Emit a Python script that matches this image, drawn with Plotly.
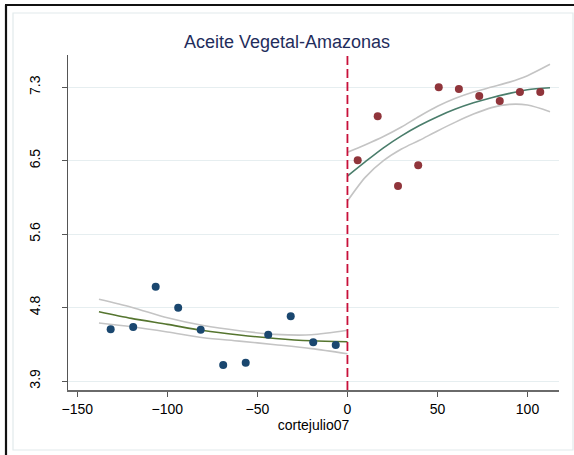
import plotly.graph_objects as go

# ---- data ----
left_x = [-131.5, -119, -106.5, -94, -81.5, -69, -56.5, -44, -31.5, -19, -6.5]
left_y = [4.498, 4.525, 4.991, 4.748, 4.494, 4.085, 4.112, 4.436, 4.649, 4.348, 4.317]

right_x = [5.7, 16.8, 28.1, 39.3, 50.7, 61.9, 73.2, 84.6, 95.8, 107.1]
right_y = [6.455, 6.964, 6.158, 6.397, 7.300, 7.280, 7.199, 7.141, 7.246, 7.246]

# fitted curves and confidence bands
lfit_x = [-138, -120, -100, -80, -60, -40, -20, 0]
lfit_c = [4.702, 4.625, 4.556, 4.484, 4.433, 4.393, 4.366, 4.355]
lfit_u = [4.846, 4.755, 4.632, 4.542, 4.482, 4.440, 4.435, 4.487]
lfit_l = [4.571, 4.528, 4.468, 4.400, 4.362, 4.320, 4.275, 4.216]

rfit_x = [0, 10, 20, 30, 40, 50, 60, 70, 80, 90, 100, 112.5]
rfit_c = [6.273, 6.440, 6.600, 6.738, 6.858, 6.960, 7.048, 7.120, 7.180, 7.230, 7.272, 7.295]
rfit_u = [6.548, 6.635, 6.730, 6.840, 6.965, 7.080, 7.173, 7.245, 7.303, 7.360, 7.435, 7.566]
rfit_l = [5.984, 6.260, 6.450, 6.585, 6.687, 6.795, 6.897, 6.990, 7.065, 7.103, 7.095, 7.018]

cutoff = 0
x_ticks = [-150, -100, -50, 0, 50, 100]
y_ticks = [3.9, 4.75, 5.6, 6.45, 7.3]
y_tick_text = ["3.9", "4.8", "5.6", "6.5", "7.3"]

title = "Aceite Vegetal-Amazonas"
x_title = "cortejulio07"

FONT = "Liberation Sans, Arial, sans-serif"
CI_COL = "#c4c4c4"
SMOOTH = 0.8

fig = go.Figure()

for xs, ys in [(lfit_x, lfit_u), (lfit_x, lfit_l), (rfit_x, rfit_u), (rfit_x, rfit_l)]:
    fig.add_trace(go.Scatter(x=xs, y=ys, mode="lines",
                             line=dict(color=CI_COL, width=1.6, shape="spline", smoothing=SMOOTH),
                             hoverinfo="skip", showlegend=False))

fig.add_trace(go.Scatter(x=lfit_x, y=lfit_c, mode="lines",
                         line=dict(color="#55752f", width=1.6, shape="spline", smoothing=SMOOTH),
                         showlegend=False))
fig.add_trace(go.Scatter(x=rfit_x, y=rfit_c, mode="lines",
                         line=dict(color="#4a7d6b", width=1.6, shape="spline", smoothing=SMOOTH),
                         showlegend=False))

fig.add_trace(go.Scatter(x=left_x, y=left_y, mode="markers",
                         marker=dict(color="#1a476f", size=8), showlegend=False))
fig.add_trace(go.Scatter(x=right_x, y=right_y, mode="markers",
                         marker=dict(color="#90353b", size=8), showlegend=False))

# cutoff line
fig.add_shape(type="line", xref="x", yref="paper", x0=cutoff, x1=cutoff, y0=0, y1=1,
              line=dict(color="#c8103a", width=1.8, dash="9px,4px"), layer="above")

# outer frame decorations (paper coordinates)
W, H = 574, 455
L, R, T, B = 68, 15, 55, 65
pw, ph = W - L - R, H - T - B
def px(x): return (x - L) / pw
def py(y): return (H - B - y) / ph

fig.add_shape(type="rect", xref="paper", yref="paper",
              x0=px(13), x1=px(573), y0=py(450), y1=py(13),
              line=dict(color="#e2eaec", width=1.2), layer="below")
fig.add_shape(type="line", xref="paper", yref="paper",
              x0=px(6), x1=px(6), y0=py(455), y1=py(5),
              line=dict(color="#111111", width=2.2))
fig.add_shape(type="line", xref="paper", yref="paper",
              x0=px(5), x1=px(574), y0=py(5), y1=py(5),
              line=dict(color="#111111", width=2.2))

fig.update_layout(
    width=W, height=H,
    margin=dict(l=L, r=R, t=T, b=B, autoexpand=False),
    paper_bgcolor="white", plot_bgcolor="white",
    font=dict(family=FONT, size=14, color="#000000"),
    title=dict(text=title, x=0.5, xref="container", xanchor="center",
               y=1 - 42 / H, yref="container", yanchor="middle",
               font=dict(family=FONT, size=18, color="#1f2d5c")),
    showlegend=False,
)

fig.update_xaxes(range=[-155.2, 117.5], tickvals=x_ticks, ticks="outside", ticklen=5,
                 tickcolor="#555555", tickwidth=1.2, showline=True, linecolor="#6a6a6a", linewidth=2,
                 showgrid=False, zeroline=False, automargin=False,
                 title=dict(text=x_title, standoff=2, font=dict(size=14)),
                 tickfont=dict(size=14))
fig.update_yaxes(range=[3.796, 7.674], tickvals=y_ticks, ticktext=y_tick_text, tickangle=-90,
                 ticks="outside", ticklen=5, tickcolor="#555555", tickwidth=1.2,
                 showline=True, linecolor="#555555", linewidth=1.2,
                 showgrid=True, gridcolor="#e6eef0", gridwidth=1.2, zeroline=False,
                 automargin=False,
                 ticklabelstandoff=16, tickfont=dict(size=14))

fig.write_html("out.html", config={"displayModeBar": False},
               post_script="document.body.style.margin='0px';document.body.style.overflow='hidden';")
